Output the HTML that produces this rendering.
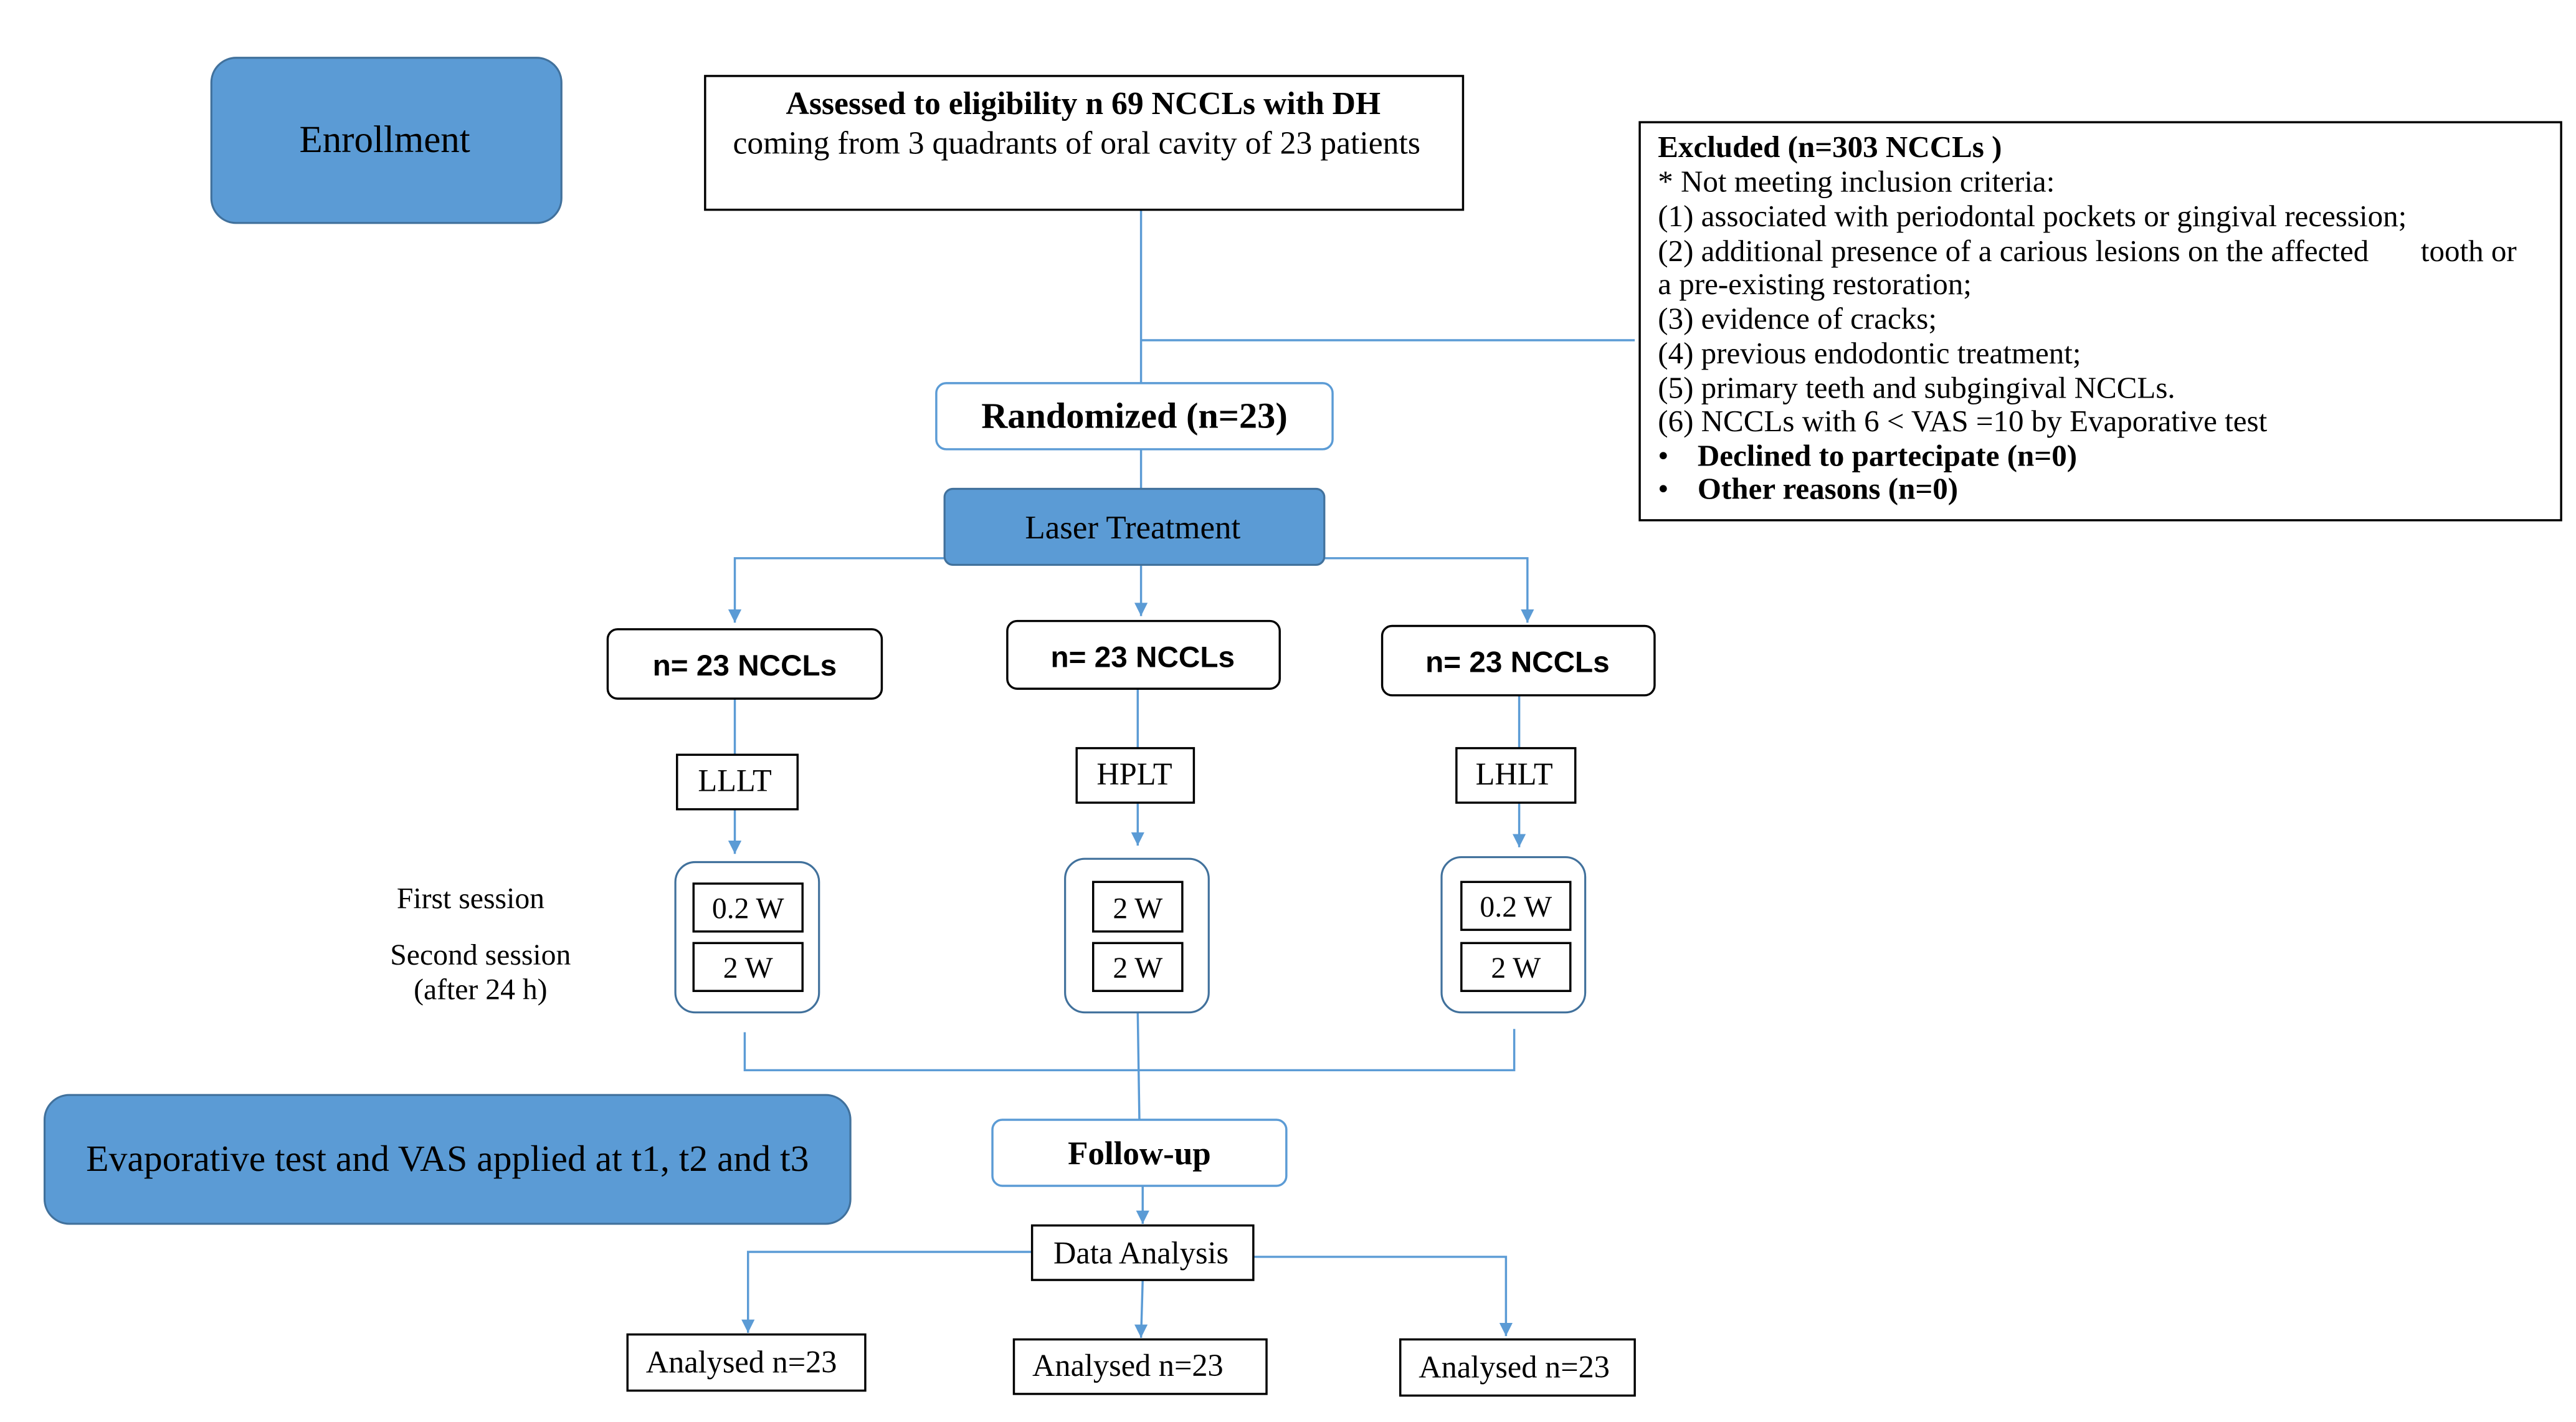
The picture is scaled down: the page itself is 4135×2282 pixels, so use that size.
<!DOCTYPE html>
<html><head><meta charset="utf-8"><style>
html,body{margin:0;padding:0;background:#fff;}
svg{display:block;}
text{font-family:"Liberation Serif",serif;fill:#000;}
.s{font-family:"Liberation Sans",sans-serif;font-weight:bold;}
</style></head><body>
<svg width="4135" height="2282" viewBox="0 0 1560 861" preserveAspectRatio="none" xmlns="http://www.w3.org/2000/svg">
<defs>
<marker id="d" viewBox="0 0 10 10" refX="5" refY="10" markerWidth="8" markerHeight="10" orient="0" markerUnits="userSpaceOnUse"><path d="M0,0 L10,0 L5,10 z" fill="#5b9bd5"/></marker>
</defs>
<rect width="1560" height="861" fill="#fff"/>
<g stroke="#5b9bd5" stroke-width="1.3" fill="none">
<line x1="691" y1="127" x2="691" y2="232"/>
<line x1="691" y1="206" x2="990" y2="206"/>
<line x1="691" y1="272" x2="691" y2="296"/>
<polyline points="572,338 445,338 445,377" marker-end="url(#d)"/>
<polyline points="802,338 925,338 925,377" marker-end="url(#d)"/>
<line x1="691" y1="342" x2="691" y2="373" marker-end="url(#d)"/>
<line x1="445" y1="423" x2="445" y2="457"/>
<line x1="689" y1="417" x2="689" y2="453"/>
<line x1="920" y1="421" x2="920" y2="453"/>
<line x1="445" y1="490" x2="445" y2="517" marker-end="url(#d)"/>
<line x1="689" y1="486" x2="689" y2="512" marker-end="url(#d)"/>
<line x1="920" y1="486" x2="920" y2="513" marker-end="url(#d)"/>
<polyline points="451,625 451,648 917,648 917,623"/>
<line x1="689" y1="613" x2="690" y2="678"/>
<line x1="692" y1="718" x2="692" y2="741" marker-end="url(#d)"/>
<polyline points="625,758 453,758 453,807" marker-end="url(#d)"/>
<polyline points="759,761 912,761 912,809" marker-end="url(#d)"/>
<line x1="692" y1="775" x2="691" y2="810" marker-end="url(#d)"/>
</g>
<rect x="128" y="35" width="212" height="100" rx="15" fill="#5b9bd5" stroke="#41719c" stroke-width="1.2"/>
<text x="233" y="92" font-size="23" text-anchor="middle">Enrollment</text>
<rect x="427" y="46" width="459" height="81" fill="#fff" stroke="#000" stroke-width="1.3"/>
<text x="656" y="69" font-size="19.5" font-weight="bold" text-anchor="middle">Assessed to eligibility n 69 NCCLs with DH</text>
<text x="652" y="93" font-size="19.5" text-anchor="middle">coming from 3 quadrants of oral cavity of 23 patients</text>
<rect x="993" y="74" width="558" height="241" fill="#fff" stroke="#000" stroke-width="1.3"/>
<g font-size="18.5">
<text x="1004" y="95" font-weight="bold">Excluded (n=303 NCCLs )</text>
<text x="1004" y="116">* Not meeting inclusion criteria:</text>
<text x="1004" y="137">(1) associated with periodontal pockets or gingival recession;</text>
<text x="1004" y="158">(2) additional presence of a carious lesions on the affected</text>
<text x="1466" y="158">tooth or</text>
<text x="1004" y="178">a pre-existing restoration;</text>
<text x="1004" y="199">(3) evidence of cracks;</text>
<text x="1004" y="220">(4) previous endodontic treatment;</text>
<text x="1004" y="241">(5) primary teeth and subgingival NCCLs.</text>
<text x="1004" y="261">(6) NCCLs with  6 &lt; VAS =10 by Evaporative test</text>
<text x="1004" y="282">•</text><text x="1028" y="282" font-weight="bold">Declined to partecipate  (n=0)</text>
<text x="1004" y="302">•</text><text x="1028" y="302" font-weight="bold">Other reasons (n=0)</text>
</g>
<rect x="567" y="232" width="240" height="40" rx="6" fill="#fff" stroke="#5b9bd5" stroke-width="1.3"/>
<text x="687" y="259" font-size="22" font-weight="bold" text-anchor="middle">Randomized (n=23)</text>
<rect x="572" y="296" width="230" height="46" rx="5" fill="#5b9bd5" stroke="#41719c" stroke-width="1.2"/>
<text x="686" y="326" font-size="20" text-anchor="middle">Laser Treatment</text>
<g fill="#fff" stroke="#000" stroke-width="1.3">
<rect x="368" y="381" width="166" height="42" rx="6"/>
<rect x="610" y="376" width="165" height="41" rx="6"/>
<rect x="837" y="379" width="165" height="42" rx="6"/>
<rect x="410" y="457" width="73" height="33"/>
<rect x="652" y="453" width="71" height="33"/>
<rect x="882" y="453" width="72" height="33"/>
<rect x="380" y="808" width="144" height="34"/>
<rect x="614" y="811" width="153" height="33"/>
<rect x="848" y="811" width="142" height="34"/>
<rect x="625" y="742" width="134" height="33"/>
</g>
<g font-size="19" text-anchor="middle">
<text class="s" x="451" y="409" font-size="18">n= 23 NCCLs</text>
<text class="s" x="692" y="404" font-size="18">n= 23 NCCLs</text>
<text class="s" x="919" y="407" font-size="18">n= 23 NCCLs</text>
<text x="445" y="479">LLLT</text>
<text x="687" y="475">HPLT</text>
<text x="917" y="475">LHLT</text>
<text x="449" y="831">Analysed n=23</text>
<text x="683" y="833">Analysed n=23</text>
<text x="917" y="834">Analysed n=23</text>
<text x="691" y="765">Data Analysis</text>
</g>
<g fill="#fff" stroke="#41719c" stroke-width="1.2">
<rect x="409" y="522" width="87" height="91" rx="12"/>
<rect x="645" y="520" width="87" height="93" rx="12"/>
<rect x="873" y="519" width="87" height="94" rx="12"/>
</g>
<g fill="#fff" stroke="#000" stroke-width="1.3">
<rect x="420" y="535" width="66" height="29"/>
<rect x="420" y="571" width="66" height="29"/>
<rect x="662" y="534" width="54" height="30"/>
<rect x="662" y="571" width="54" height="29"/>
<rect x="885" y="534" width="66" height="29"/>
<rect x="885" y="571" width="66" height="29"/>
</g>
<g font-size="18" text-anchor="middle">
<text x="453" y="556">0.2 W</text>
<text x="453" y="592">2 W</text>
<text x="689" y="556">2 W</text>
<text x="689" y="592">2 W</text>
<text x="918" y="555">0.2 W</text>
<text x="918" y="592">2 W</text>
<text x="285" y="550">First session</text>
<text x="291" y="584">Second session</text>
<text x="291" y="605">(after 24 h)</text>
</g>
<rect x="27" y="663" width="488" height="78" rx="15" fill="#5b9bd5" stroke="#41719c" stroke-width="1.2"/>
<text x="271" y="709" font-size="22.5" text-anchor="middle">Evaporative test and VAS applied at t1, t2  and t3</text>
<rect x="601" y="678" width="178" height="40" rx="6" fill="#fff" stroke="#5b9bd5" stroke-width="1.3"/>
<text x="690" y="705" font-size="20" font-weight="bold" text-anchor="middle">Follow-up</text>
</svg>
</body></html>
